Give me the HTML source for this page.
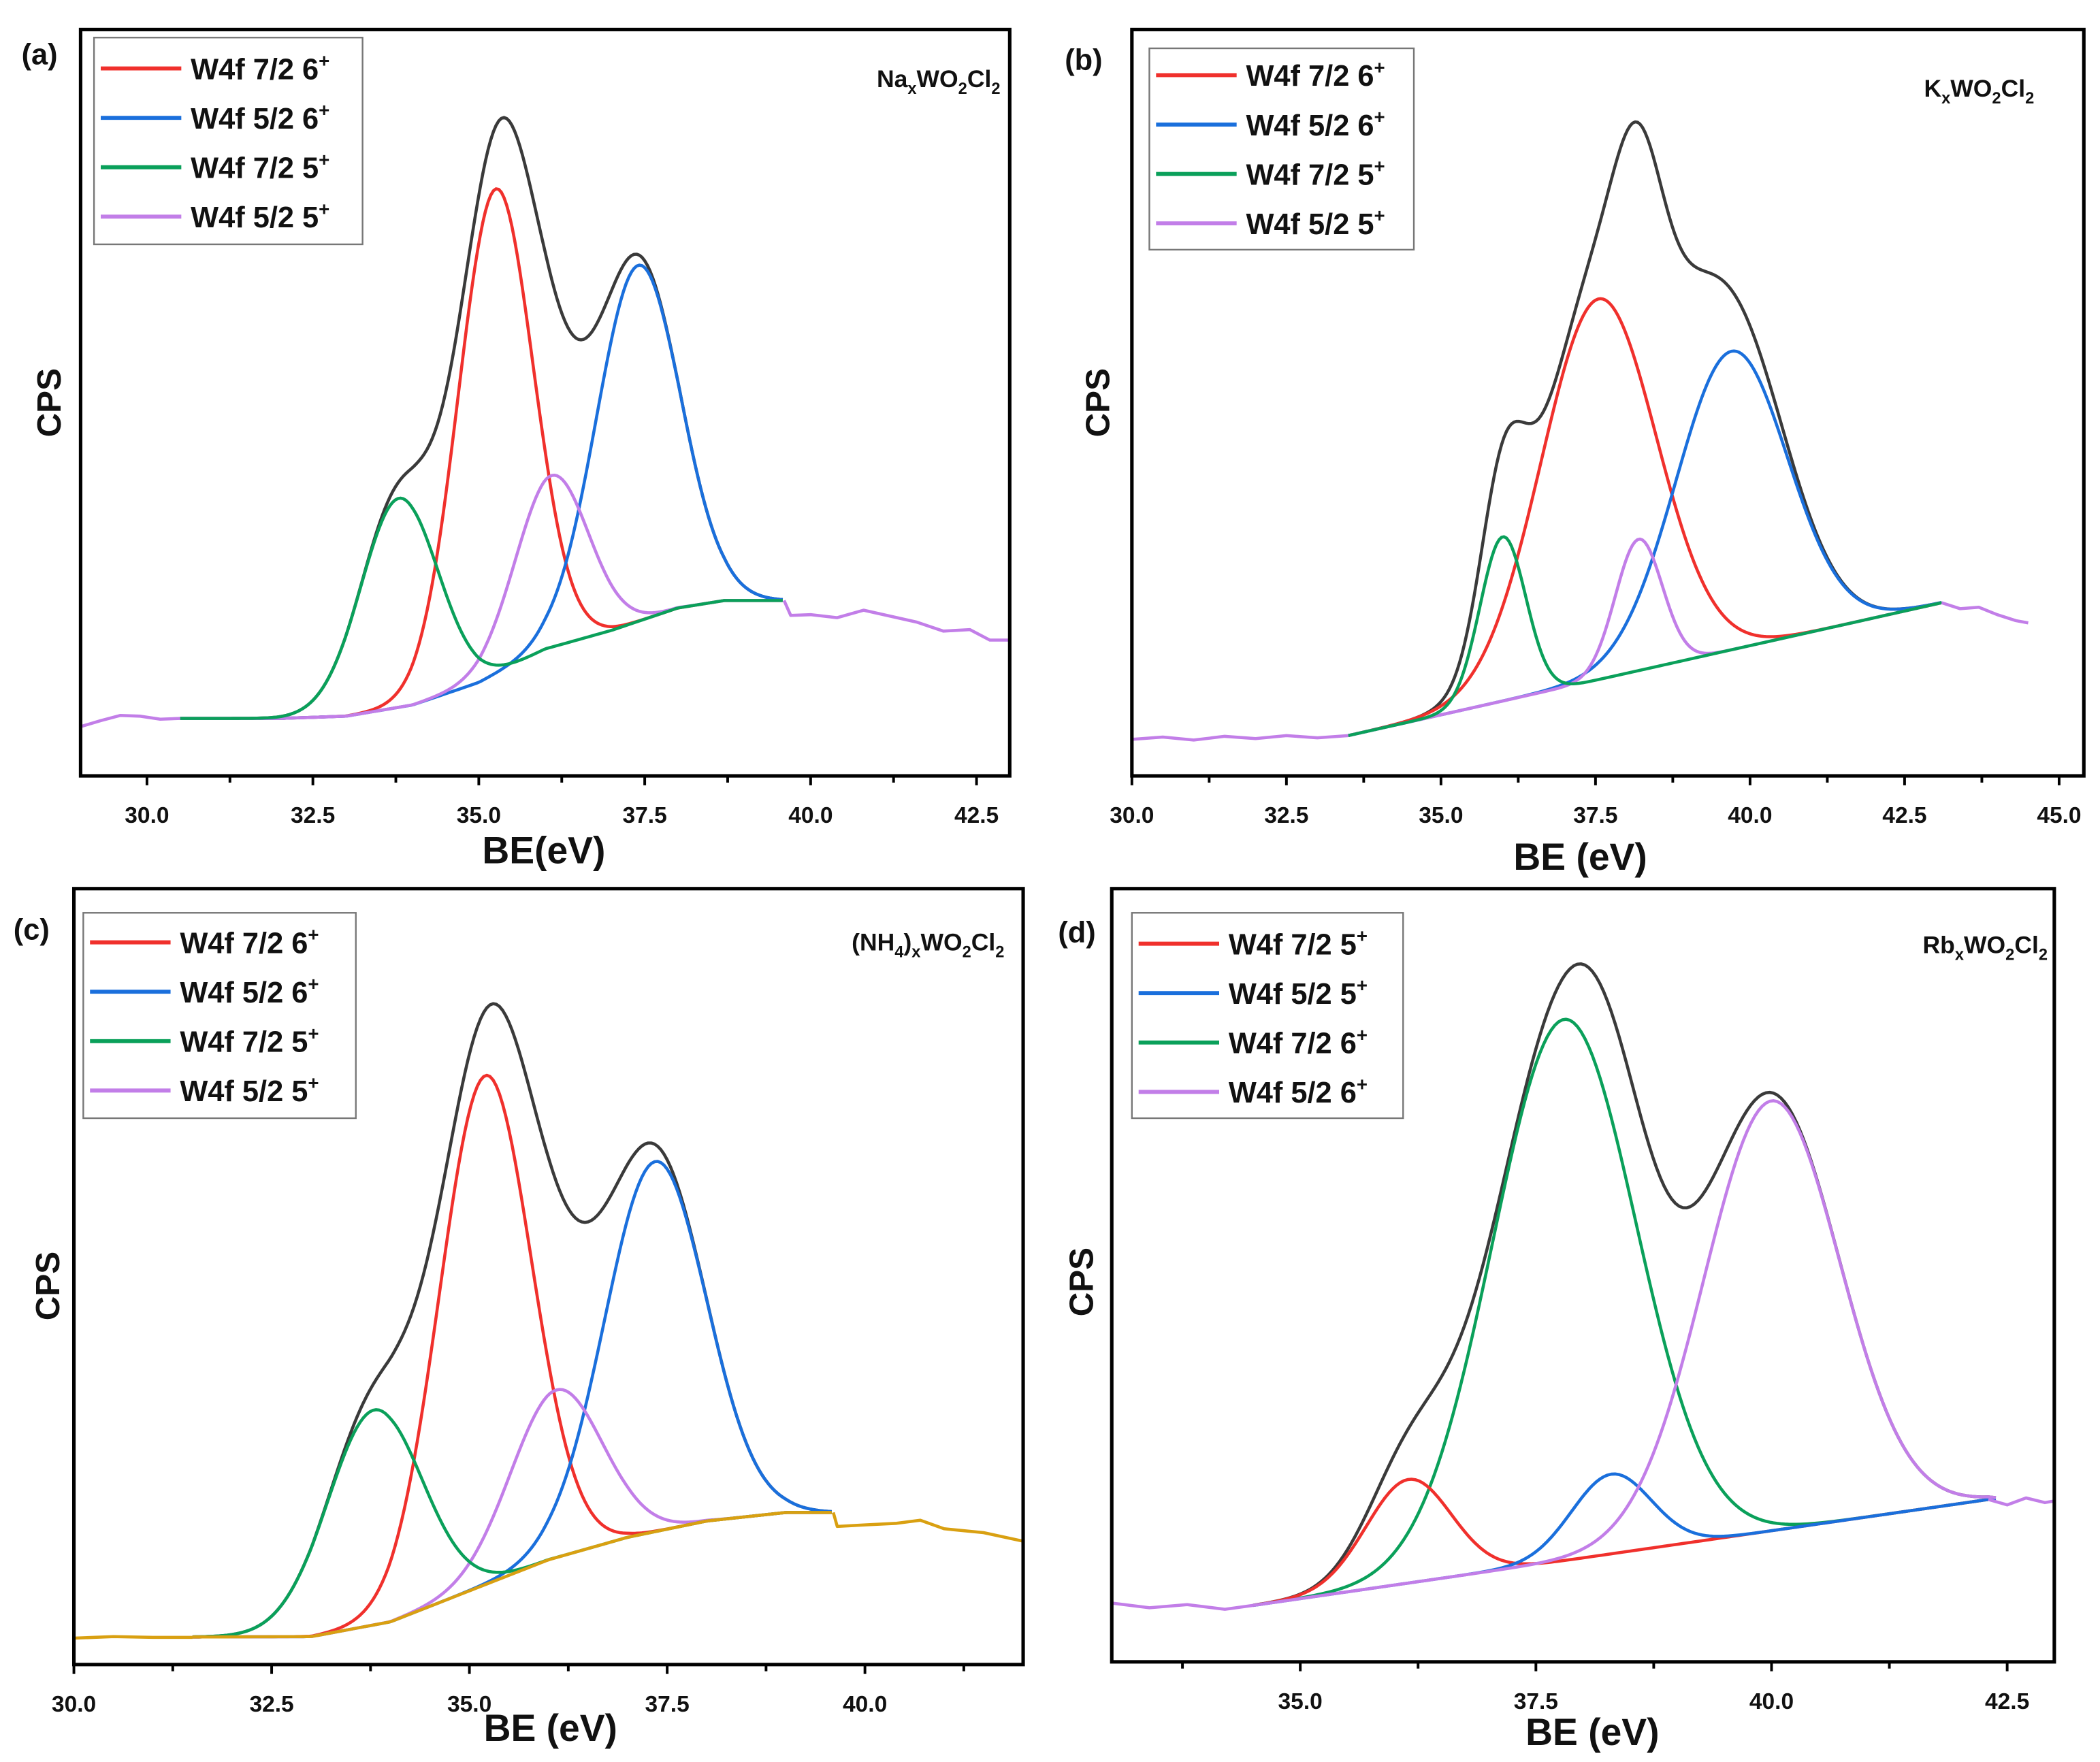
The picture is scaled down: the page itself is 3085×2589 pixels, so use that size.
<!DOCTYPE html>
<html><head><meta charset="utf-8"><style>
html,body{margin:0;padding:0;background:#fff}
svg{display:block}
text{font-family:"Liberation Sans",Arial,sans-serif;font-weight:bold;fill:#111}
</style></head><body>
<svg id="fig" width="3085" height="2589" viewBox="0 0 1564 1312.6" xmlns="http://www.w3.org/2000/svg"></svg>
<script>
// ---------- Panel (a) Na ----------
const aCenters=[35.25,37.4,33.8,36.1];
const aHeights=[65,47.7,28,23];
const aSigmas=[0.56,0.63,0.58,0.55];
const aExtra=[35.3,0,1];
const aBgX=[29,32,33,34,35,36,37,38,38.7,39.6];
const aBgY=[7.7,7.7,8,9.5,12.5,17,19.5,22.5,23.5,23.5];
const aLeftX=[29,29.3,29.6,29.9,30.2,30.5];
const aLeftY=[6.6,7.4,8.1,8.0,7.6,7.7];
const aTailX=[39.6,39.7,40,40.4,40.8,41.2,41.6,42,42.4,42.7,43];
const aTailY=[23.5,21.5,21.6,21.2,22.2,21.4,20.6,19.4,19.6,18.2,18.2];
// ---------- Panel (b) K ----------
const bCenters=[37.55,39.7,36.0,38.2];
const bHeights=[51,40,22,17.6];
const bSigmas=[0.93,0.9,0.37,0.38];
const bExtra=[38.8,7,1.0];
const bBgX=[30,33.5,43.1];
const bBgY=[5,5.4,23.2];
const bLeftX=[30,30.5,31,31.5,32,32.5,33,33.5];
const bLeftY=[4.9,5.2,4.8,5.3,5.0,5.4,5.1,5.4];
const bTailX=[43.1,43.4,43.7,44,44.3,44.5];
const bTailY=[23.2,22.4,22.6,21.6,20.8,20.5];
// ---------- Panel (c) NH4 ----------
const cCenters=[35.2,37.35,33.8,36.1];
const cHeights=[65.6,47.7,27.7,21.6];
const cSigmas=[0.58,0.64,0.6,0.58];
const cExtra=[35.3,0,1];
const cBgX=[30,33,34,35,36,37,38,39,39.6];
const cBgY=[3.5,3.6,5.5,9.5,13.5,16.4,18.5,19.6,19.6];
const cLeftX=[30,30.5,31,31.5];
const cLeftY=[3.4,3.6,3.5,3.5];
const cTailX=[39.6,39.65,40,40.4,40.7,41,41.5,42];
const cTailY=[19.6,17.8,18.0,18.2,18.6,17.5,17.0,15.9];
// ---------- Panel (d) Rb ----------
const dCenters=[36.15,38.3,37.8,40.0];
const dHeights=[13.4,10.3,70,55.6];
const dSigmas=[0.45,0.42,0.76,0.72];
const dExtra=[37.9,0,1];
const dBgX=[33,34.5,42.3];
const dBgY=[7.3,7.3,21];
const dLeftX=[33,33.4,33.8,34.2,34.5];
const dLeftY=[7.6,7.0,7.4,6.8,7.3];
const dTailX=[42.3,42.5,42.7,42.9,43];
const dTailY=[21,20.3,21.2,20.6,20.8];

const NS="http://www.w3.org/2000/svg";
const svg=document.getElementById('fig');
function mk(tag,attrs,parent){const e=document.createElementNS(NS,tag);for(const k in attrs)e.setAttribute(k,attrs[k]);(parent||svg).appendChild(e);return e;}
const COL={red:'#f0302c',blue:'#1a6fdc',green:'#0aa05a',purple:'#c27ee8',black:'#3a3a3a',orange:'#d9a011'};
function interp(xs,ys,x){if(x<=xs[0])return ys[0];for(let i=1;i<xs.length;i++){if(x<=xs[i]){const t=(x-xs[i-1])/(xs[i]-xs[i-1]);return ys[i-1]+t*(ys[i]-ys[i-1]);}}return ys[ys.length-1];}

function panel(p){
  const g=mk('g',{});
  
  
  const X=v=>p.L+(v-p.xmin)/(p.xmax-p.xmin)*(p.R-p.L);
  const Y=v=>p.B-v/100*(p.B-p.T);
  const path=(pts,color,name)=>{const d=pts.map((q,i)=>(i?'L':'M')+X(q[0]).toFixed(2)+' '+Y(q[1]).toFixed(2)).join(' ');
    const e=mk('path',{d:d,fill:'none',stroke:color,'stroke-width':2.3,'stroke-linejoin':'round'},g);
    
    return e;};
  const bg=x=>interp(p.bgX,p.bgY,x);
  const comp=(i,x)=>p.h[i]*Math.exp(-0.5*Math.pow((x-p.c[i])/p.s[i],2));
  const extra=x=>p.extra[1]*Math.exp(-0.5*Math.pow((x-p.extra[0])/p.extra[2],2));
  const xs=[];for(let x=p.x0;x<=p.x1+1e-9;x+=0.04)xs.push(x);
  path(xs.map(x=>[x,bg(x)+extra(x)+[0,1,2,3].reduce((s,i)=>s+comp(i,x),0)]),COL.black,'envelope-curve');
  p.order.forEach(i=>{path(xs.map(x=>[x,bg(x)+comp(i,x)]),p.cols[i],'component-'+p.names[i]);});
  if(p.bgColor){path(xs.map(x=>[x,bg(x)]),p.bgColor,'background-curve');}
  path(p.leftX.map((x,i)=>[x,p.leftY[i]]),p.rawColor,'raw-data-left');
  path(p.tailX.map((x,i)=>[x,p.tailY[i]]),p.rawColor,'raw-data-tail');
  const f=mk('rect',{x:p.L,y:p.T,width:p.R-p.L,height:p.B-p.T,fill:'none',stroke:'#000','stroke-width':2.6},g);
  
  for(let t=Math.ceil(p.xmin/1.25)*1.25;t<=p.xmax+1e-9;t+=1.25){
    const major=Math.abs(t/2.5-Math.round(t/2.5))<1e-6;
    const tk=mk('line',{x1:X(t),x2:X(t),y1:p.B,y2:p.B+(major?7:5),stroke:'#000','stroke-width':2},g);
    
    if(major && p.labels.indexOf(t)>=0){
      const tl=mk('text',{x:X(t),y:p.B+35,'text-anchor':'middle','font-size':17},g);tl.textContent=t.toFixed(1);
      
    }
  }
  const xt=mk('text',{x:p.bx,y:p.by,'text-anchor':'middle','font-size':28},g);xt.textContent=p.btxt;
  
  const yt=mk('text',{x:0,y:0,'text-anchor':'middle','font-size':25,transform:`translate(${p.cx},${p.cy}) rotate(-90)`},g);yt.textContent='CPS';
  
  const pl=mk('text',{x:p.lx,y:p.ly,'font-size':22},g);pl.textContent='('+p.id+')';
  
  const sl=mk('text',{x:p.sx,y:p.sy,'text-anchor':'end','font-size':18},g);sl.innerHTML=p.sample;
  
  const lg=mk('g',{},g);
  mk('rect',{x:p.lg[0],y:p.lg[1],width:p.lg[2],height:p.lg[3],fill:'#fff',stroke:'#777','stroke-width':1.2},lg);
  p.legendCols.forEach((c,i)=>{
    const y=p.lg[1]+p.lgOff+i*36.8;
    const e=mk('g',{},lg);
    mk('line',{x1:p.lg[0]+5,x2:p.lg[0]+65,y1:y,y2:y,stroke:c,'stroke-width':3},e);
    const t=mk('text',{x:p.lg[0]+72,y:y+8,'font-size':22},e);
    t.innerHTML=p.legendTxt[i]+'<tspan dy="-9" font-size="14">+</tspan>';
  });
}
const sub=s=>'<tspan dy="5" font-size="12">'+s+'</tspan>';
const up=s=>'<tspan dy="-5">'+s+'</tspan>';
const std=['W4f 7/2 6','W4f 5/2 6','W4f 7/2 5','W4f 5/2 5'];
const cols4=[COL.red,COL.blue,COL.green,COL.purple];
panel({id:'a',L:60,R:752,T:22,B:578,xmin:29,xmax:43,x0:30.5,x1:39.6,c:aCenters,h:aHeights,s:aSigmas,extra:aExtra,bgX:aBgX,bgY:aBgY,leftX:aLeftX,leftY:aLeftY,tailX:aTailX,tailY:aTailY,
  cols:cols4,names:['red','blue','green','purple'],order:[0,1,3,2],rawColor:COL.purple,
  labels:[30,32.5,35,37.5,40,42.5],bx:405,by:643,btxt:'BE(eV)',cx:45,cy:300,lx:16,ly:48,sx:745,sy:65,
  sample:'Na'+sub('x')+up('WO')+sub('2')+up('Cl')+sub('2'),
  lg:[70,28,200,154],lgOff:23,legendCols:cols4,legendTxt:std});
panel({id:'b',L:843,R:1552,T:22,B:578,xmin:30,xmax:45.4,x0:33.5,x1:43.1,c:bCenters,h:bHeights,s:bSigmas,extra:bExtra,bgX:bBgX,bgY:bBgY,leftX:bLeftX,leftY:bLeftY,tailX:bTailX,tailY:bTailY,
  cols:cols4,names:['red','blue','green','purple'],order:[0,1,3,2],rawColor:COL.purple,
  labels:[30,32.5,35,37.5,40,42.5,45],bx:1177,by:648,btxt:'BE (eV)',cx:826,cy:300,lx:793,ly:52,sx:1515,sy:72,
  sample:'K'+sub('x')+up('WO')+sub('2')+up('Cl')+sub('2'),
  lg:[856,36,197,150],lgOff:20,legendCols:cols4,legendTxt:std});
panel({id:'c',L:55,R:762,T:662,B:1240,xmin:30,xmax:42,x0:31.5,x1:39.6,c:cCenters,h:cHeights,s:cSigmas,extra:cExtra,bgX:cBgX,bgY:cBgY,leftX:cLeftX,leftY:cLeftY,tailX:cTailX,tailY:cTailY,
  cols:cols4,names:['red','blue','green','purple'],order:[0,1,3,2],rawColor:COL.orange,bgColor:COL.orange,
  labels:[30,32.5,35,37.5,40],bx:410,by:1297,btxt:'BE (eV)',cx:44,cy:958,lx:10,ly:700,sx:748,sy:708,
  sample:'(NH'+sub('4')+up(')')+sub('x')+up('WO')+sub('2')+up('Cl')+sub('2'),
  lg:[62,680,203,153],lgOff:22,legendCols:cols4,legendTxt:std});
panel({id:'d',L:828,R:1530,T:662,B:1238,xmin:33,xmax:43,x0:34.5,x1:42.4,c:dCenters,h:dHeights,s:dSigmas,extra:dExtra,bgX:dBgX,bgY:dBgY,leftX:dLeftX,leftY:dLeftY,tailX:dTailX,tailY:dTailY,
  cols:cols4,names:['red','blue','green','purple'],order:[2,0,1,3],rawColor:COL.purple,
  labels:[35,37.5,40,42.5],bx:1186,by:1300,btxt:'BE (eV)',cx:814,cy:955,lx:788,ly:702,sx:1525,sy:710,
  sample:'Rb'+sub('x')+up('WO')+sub('2')+up('Cl')+sub('2'),
  lg:[843,680,202,153],lgOff:23,legendCols:cols4,legendTxt:['W4f 7/2 5','W4f 5/2 5','W4f 7/2 6','W4f 5/2 6']});
</script>
</body></html>
